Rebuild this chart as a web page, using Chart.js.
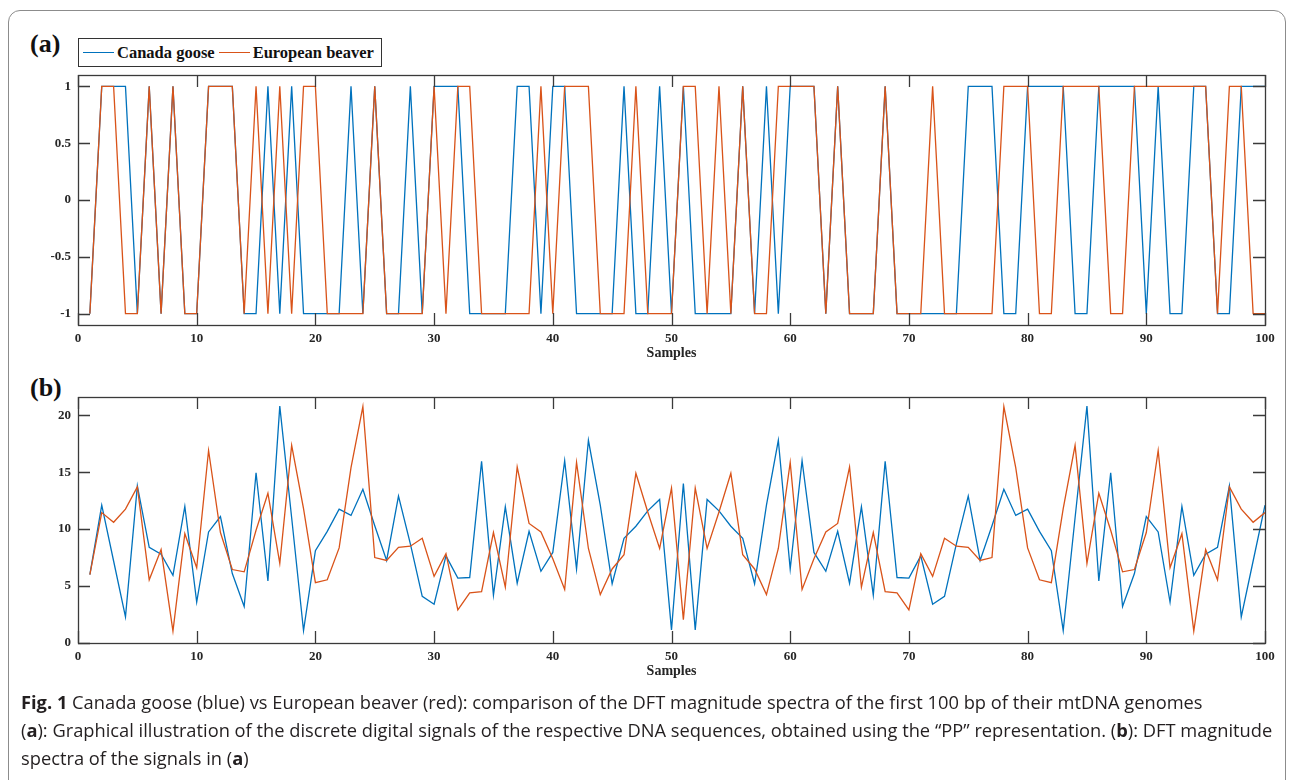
<!DOCTYPE html>
<html>
<head>
<meta charset="utf-8">
<script src="https://cdn.jsdelivr.net/npm/chart.js@4.4.1/dist/chart.umd.min.js"></script>
<style>
  body { margin: 0; width: 1293px; height: 780px; background: #fff; position: relative; overflow: hidden; }
  .frame { position: absolute; left: 8px; top: 10px; width: 1276px; height: 820px; border: 1px solid #8c8c8c; border-radius: 12px; }
  canvas { position: absolute; left: 0; }
  .panel { position: absolute; left: 30px; font: bold 26px 'Liberation Serif', serif; color: #111; }
  .legend { position: absolute; left: 78px; top: 38px; width: 302px; height: 27px; border: 1px solid #333; background: #fff;
            font: bold 16.5px 'Liberation Serif', serif; color: #111; display: flex; align-items: center; white-space: nowrap; }
  .legend span.sw { display: inline-block; width: 31px; height: 0; border-top: 1.4px solid; margin: 0 3px 0 4px; }
  .caption { position: absolute; left: 21px; top: 688px; font: 18.3px 'Open Sans', sans-serif; line-height: 28px; color: #231f20; white-space: nowrap; }
</style>
</head>
<body>
<div class="frame"></div>
<div class="panel" style="top:29px">(a)</div>
<div class="panel" style="top:373px">(b)</div>
<canvas id="chartA" width="1293" height="310" style="top:60px"></canvas>
<canvas id="chartB" width="1293" height="310" style="top:380px"></canvas>
<div class="legend" id="legend"></div>
<div class="caption">
  <b>Fig. 1</b> Canada goose (blue) vs European beaver (red): comparison of the DFT magnitude spectra of the first 100 bp of their mtDNA genomes<br>
  (<b>a</b>): Graphical illustration of the discrete digital signals of the respective DNA sequences, obtained using the “PP” representation. (<b>b</b>): DFT magnitude<br>
  spectra of the signals in (<b>a</b>)
</div>
<script>
// sample index 1..100
const samples = Array.from({ length: 100 }, (_, i) => i + 1);
const seriesNames = ['Canada goose', 'European beaver'];
const seriesColors = ['#0072BD', '#D95319'];

// (a) PP representation, +1 / -1
const goosePP = [-1,1,1,1,-1,1,-1,1,-1,-1, 1,1,1,-1,-1,1,-1,1,-1,-1,
  -1,-1,1,-1,1,-1,-1,1,-1,1, 1,1,-1,-1,-1,-1,1,1,-1,1,
  1,-1,-1,-1,-1,1,-1,-1,1,-1, 1,-1,-1,-1,-1,1,-1,1,-1,1,
  1,1,-1,1,-1,-1,-1,1,-1,-1, -1,-1,-1,-1,1,1,1,-1,-1,1,
  1,1,1,-1,-1,1,1,1,1,-1, 1,-1,-1,1,1,-1,-1,1,1,1];
const beaverPP = [-1,1,1,-1,-1,1,-1,1,-1,-1, 1,1,1,-1,1,-1,1,-1,1,1,
  -1,-1,-1,-1,1,-1,-1,-1,-1,1, -1,1,1,-1,-1,-1,-1,-1,1,-1,
  1,1,1,-1,-1,-1,1,-1,-1,-1, 1,1,-1,1,-1,1,-1,-1,1,1,
  1,1,-1,1,-1,-1,-1,1,-1,-1, -1,1,-1,-1,-1,-1,-1,1,1,1,
  -1,-1,1,1,1,1,-1,-1,1,1, 1,1,1,1,1,-1,1,1,-1,-1];

// (b) DFT magnitudes
const gooseDFT = [6.0,12.1,7.2,2.3,13.8,8.4,7.8,5.95,12.0,3.6,
  9.75,11.1,6.1,3.2,14.95,5.45,20.8,11.0,1.1,8.1,
  9.8,11.75,11.2,13.5,10.3,7.25,12.9,8.7,4.1,3.4,
  7.65,5.7,5.75,15.95,4.2,11.95,5.25,9.8,6.3,7.95,
  16.0,6.5,17.8,12.1,5.2,9.2,10.25,11.6,12.6,1.15,
  14.0,1.15,12.6,11.6,10.25,9.2,5.2,12.1,17.8,6.5,
  16.0,7.95,6.3,9.8,5.25,11.95,4.2,15.95,5.75,5.7,
  7.65,3.4,4.1,8.7,12.9,7.25,10.3,13.5,11.2,11.75,
  9.8,8.1,1.1,11.0,20.8,5.45,14.95,3.2,6.1,11.1,
  9.75,3.6,12.0,5.95,7.8,8.4,13.8,2.3,7.2,12.1];
const beaverDFT = [6.0,11.45,10.6,11.75,13.7,5.55,8.2,1.05,9.6,6.6,
  16.9,9.7,6.45,6.25,9.9,13.15,7.0,17.35,11.8,5.3,
  5.55,8.35,15.4,20.75,7.5,7.25,8.4,8.5,9.2,5.85,
  7.85,2.9,4.4,4.5,9.7,4.9,15.45,10.5,9.75,7.4,
  4.7,15.85,8.3,4.25,6.5,7.75,14.9,11.5,8.3,13.6,
  2.05,13.6,8.3,11.5,14.9,7.75,6.5,4.25,8.3,15.85,
  4.7,7.4,9.75,10.5,15.45,4.9,9.7,4.5,4.4,2.9,
  7.85,5.85,9.2,8.5,8.4,7.25,7.5,20.75,15.4,8.35,
  5.55,5.3,11.8,17.35,7.0,13.15,9.9,6.25,6.45,9.7,
  16.9,6.6,9.6,1.05,8.2,5.55,13.7,11.75,10.6,11.45];

const xTicks = [0,10,20,30,40,50,60,70,80,90,100];
const yTicksA = [-1,-0.5,0,0.5,1];
const yTicksB = [0,5,10,15,20];

const tickFont = { family: "'Liberation Serif', serif", size: 13, weight: 'bold' };

// MATLAB-like box with inward ticks on all sides
const boxTicks = {
  id: 'boxTicks',
  afterDatasetsDraw(chart) {
    const { ctx, chartArea: a, scales: { x, y } } = chart;
    const len = 12;
    ctx.save();
    ctx.strokeStyle = '#3a3a3a';
    ctx.lineWidth = 1.3;
    ctx.beginPath();
    x.ticks.forEach(t => {
      const px = Math.round(x.getPixelForValue(t.value)) + 0.5;
      ctx.moveTo(px, a.bottom); ctx.lineTo(px, a.bottom - len);
      ctx.moveTo(px, a.top); ctx.lineTo(px, a.top + len);
    });
    y.ticks.forEach(t => {
      const py = Math.round(y.getPixelForValue(t.value)) + 0.5;
      ctx.moveTo(a.left, py); ctx.lineTo(a.left + len, py);
      ctx.moveTo(a.right, py); ctx.lineTo(a.right - len, py);
    });
    ctx.stroke();
    ctx.strokeRect(a.left + 0.5, a.top + 0.5, a.right - a.left, a.bottom - a.top);
    ctx.restore();
  }
};

function makeChart(id, seriesA, seriesB, yMin, yMax, yTicks, padTop, xHeight, titlePad) {
  return new Chart(document.getElementById(id).getContext('2d'), {
    type: 'line',
    data: {
      labels: samples,
      datasets: [
        { label: seriesNames[0], data: seriesA, borderColor: seriesColors[0], borderWidth: 1.3, order: 1 },
        { label: seriesNames[1], data: seriesB, borderColor: seriesColors[1], borderWidth: 1.3, order: 0 }
      ]
    },
    options: {
      responsive: false,
      animation: false,
      layout: { padding: { top: padTop, right: 28, left: 0, bottom: 0 } },
      elements: { point: { radius: 0 }, line: { tension: 0 } },
      plugins: { legend: { display: false }, tooltip: { enabled: false } },
      scales: {
        x: {
          type: 'linear', min: 0, max: 100,
          afterBuildTicks: s => { s.ticks = xTicks.map(v => ({ value: v })); },
          afterFit: s => { s.height = xHeight; },
          grid: { display: false, drawTicks: false },
          border: { display: false },
          ticks: { font: tickFont, color: '#262626', padding: 6, maxRotation: 0, callback: v => String(v) },
          title: { display: true, text: 'Samples', color: '#262626', padding: { top: 0, bottom: titlePad },
                   font: { family: "'Liberation Serif', serif", size: 14, weight: 'bold' } }
        },
        y: {
          min: yMin, max: yMax,
          afterBuildTicks: s => { s.ticks = yTicks.map(v => ({ value: v })); },
          afterFit: s => { s.width = 78; },
          grid: { display: false, drawTicks: false },
          border: { display: false },
          ticks: { font: tickFont, color: '#262626', padding: 7, callback: v => String(v) }
        }
      }
    },
    plugins: [boxTicks]
  });
}

makeChart('chartA', goosePP, beaverPP, -1.1, 1.1, yTicksA, 15, 45, 8);
makeChart('chartB', gooseDFT, beaverDFT, 0, 21.6, yTicksB, 17, 47, 10);

// legend box
const legend = document.getElementById('legend');
seriesNames.forEach((name, i) => {
  const sw = document.createElement('span');
  sw.className = 'sw';
  sw.style.borderColor = seriesColors[i];
  legend.appendChild(sw);
  legend.appendChild(document.createTextNode(name));
});
</script>
</body>
</html>
